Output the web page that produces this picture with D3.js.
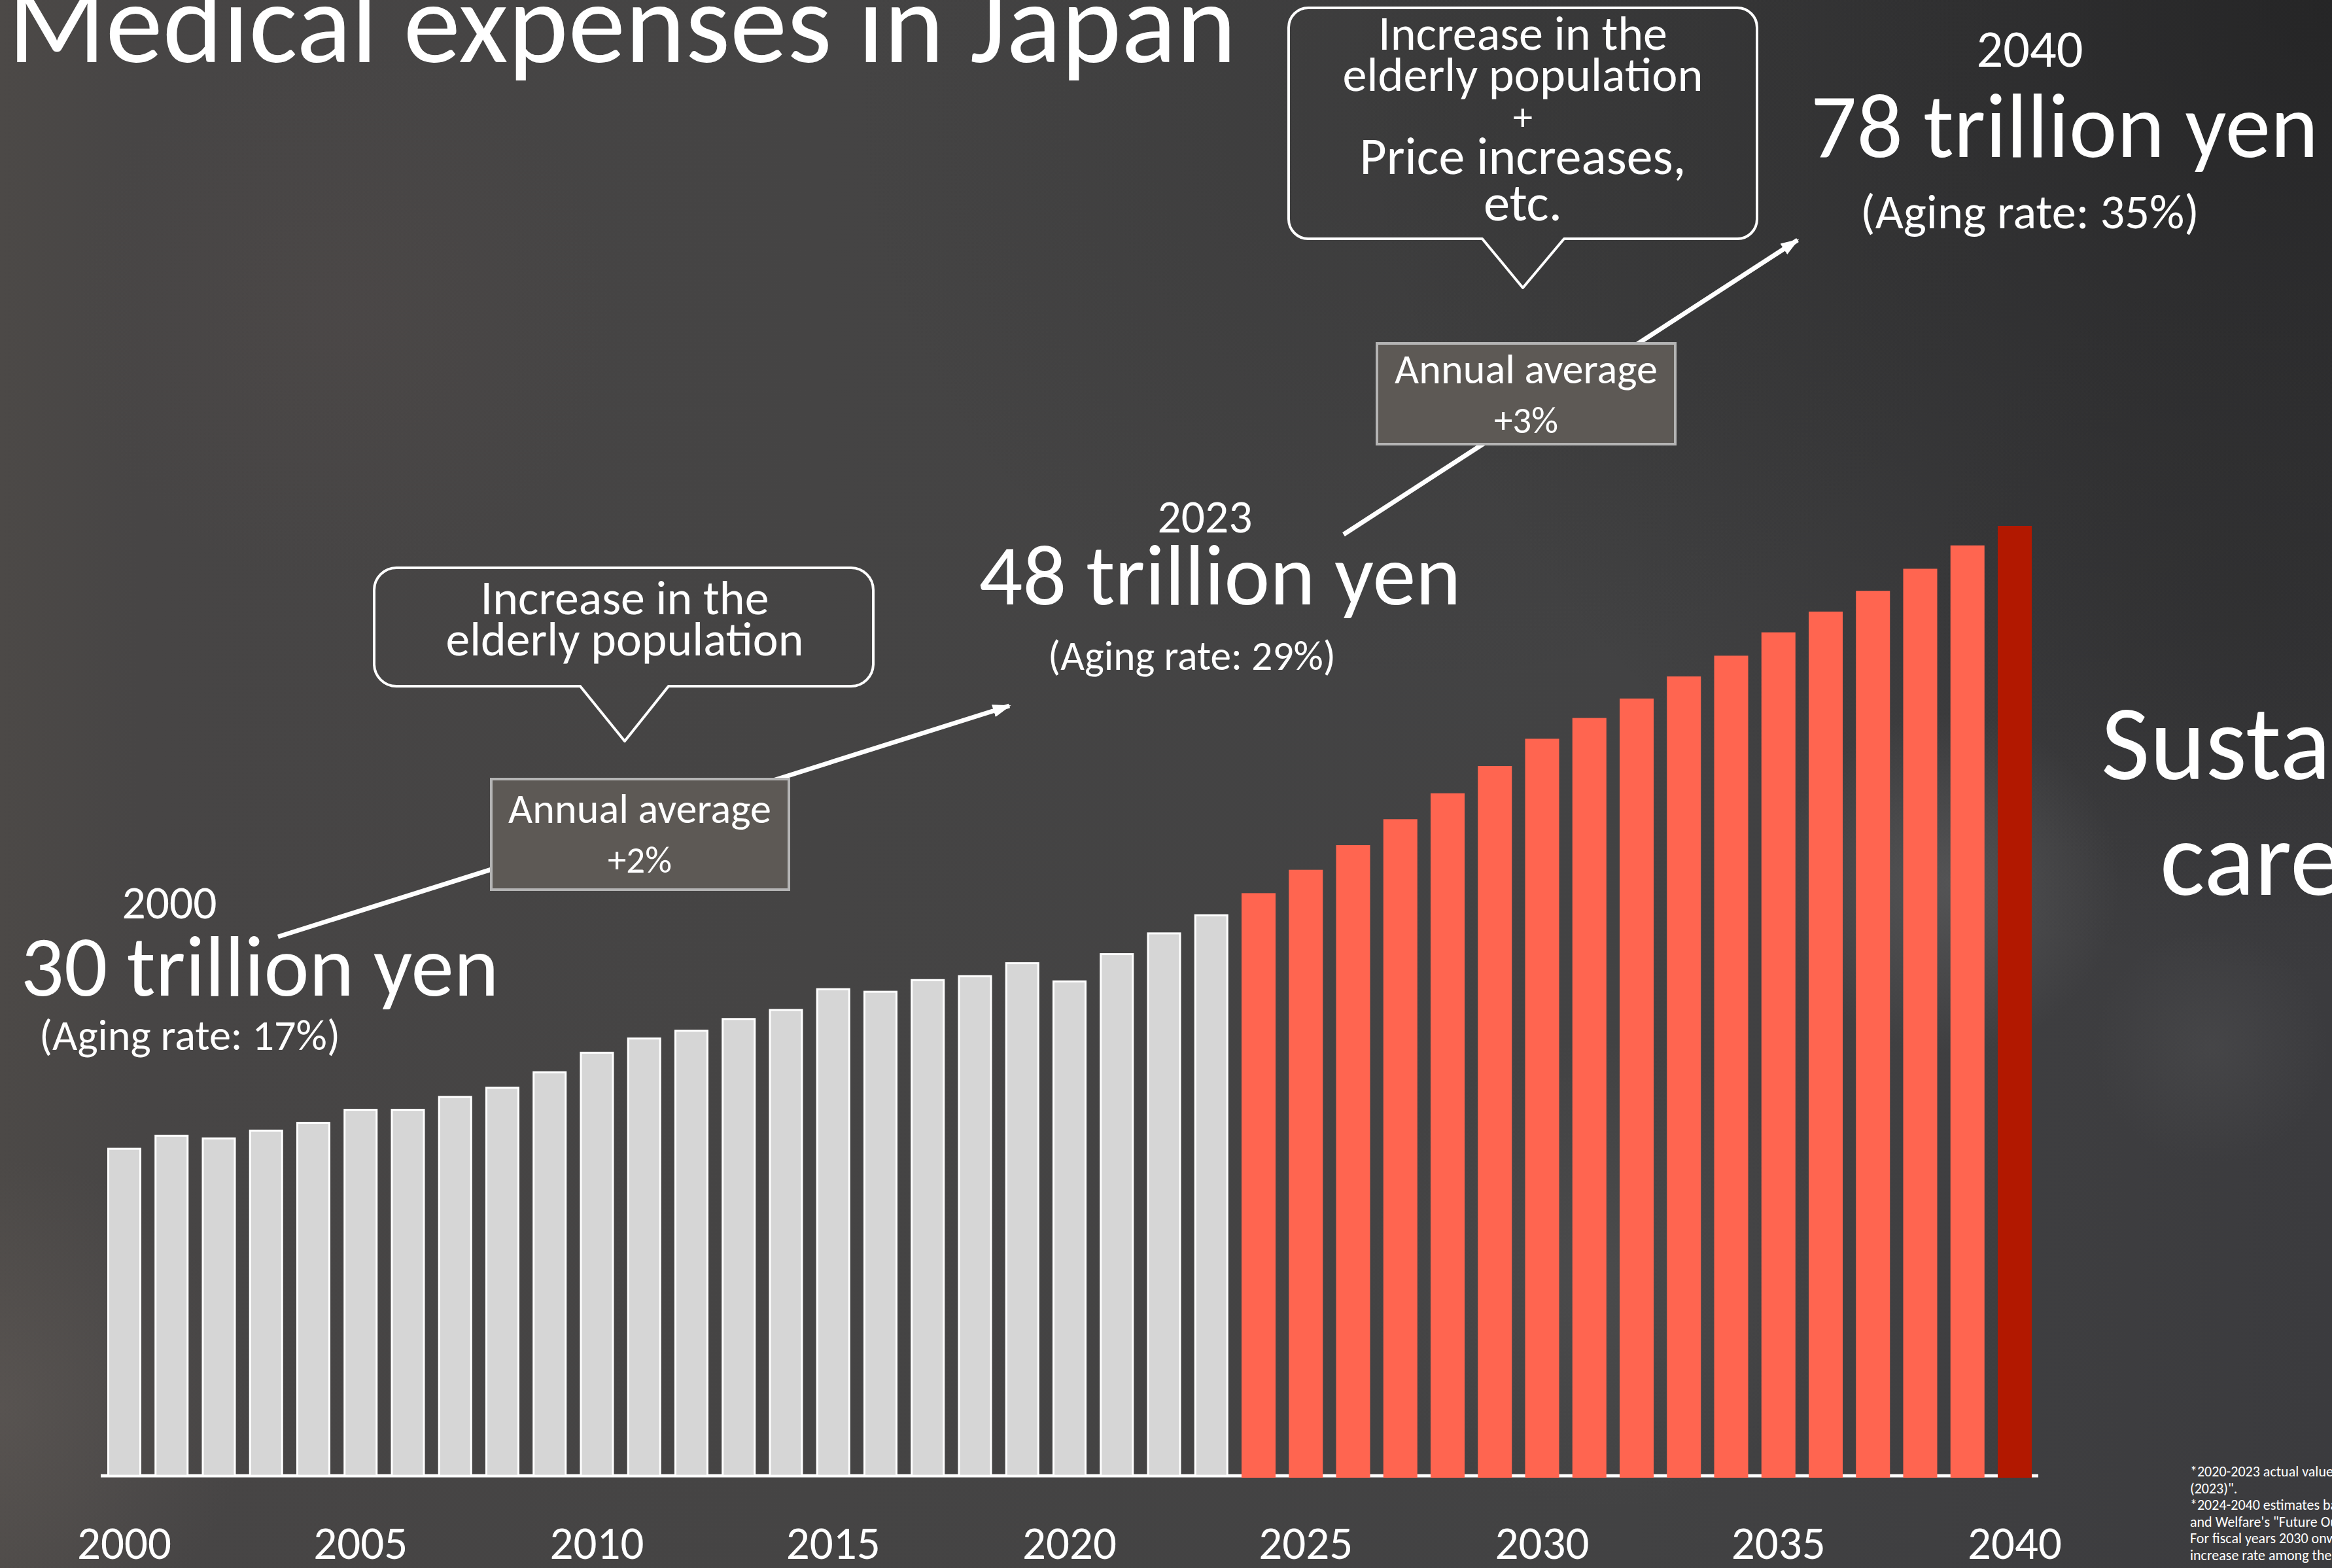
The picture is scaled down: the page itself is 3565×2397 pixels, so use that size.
<!DOCTYPE html>
<html>
<head>
<meta charset="utf-8">
<script src="https://cdn.jsdelivr.net/npm/d3@7"></script>
<style>
  html, body { margin: 0; padding: 0; background: #404040; overflow: hidden; }
  svg { display: block; }
  text { font-family: Carlito, Calibri, Lato, sans-serif; fill: #fff; }
</style>
</head>
<body>
<svg id="chart" width="3565" height="2397"></svg>
<script>
// ---- data (trillion yen, fiscal year) ----
const years = [2000, 2001, 2002, 2003, 2004, 2005, 2006, 2007, 2008, 2009,
  2010, 2011, 2012, 2013, 2014, 2015, 2016, 2017, 2018, 2019,
  2020, 2021, 2022, 2023, 2024, 2025, 2026, 2027, 2028, 2029,
  2030, 2031, 2032, 2033, 2034, 2035, 2036, 2037, 2038, 2039, 2040];
const actualValues = [30.0, 31.0, 30.8, 31.4, 32.0, 33.0, 33.0, 34.0, 34.7, 35.9,
  37.4, 38.5, 39.1, 40.0, 40.7, 42.3, 42.1, 43.0, 43.3, 44.3,
  42.9, 45.0, 46.6, 48.0];
const projectedValues = [49.7, 51.5, 53.4, 55.4, 57.4, 59.5, 61.6, 63.2, 64.7, 66.4,
  68.0, 69.8, 71.4, 73.0, 74.7, 76.5, 78.0];
const tickYears = [2000, 2005, 2010, 2015, 2020, 2025, 2030, 2035, 2040];

const highlightYears = ['2000', '2023', '2040'];
const highlightAmounts = ['30 trillion yen', '48 trillion yen', '78 trillion yen'];
const highlightAging = ['(Aging rate: 17%)', '(Aging rate: 29%)', '(Aging rate: 35%)'];
const growthRates = ['+2%', '+3%'];
const calloutLow = ['Increase in the', 'elderly population'];
const calloutHigh = ['Increase in the', 'elderly population', '+', 'Price increases,', 'etc.'];
const footnotes = [
  '*2020-2023 actual values from MHLW "Trends in Medical Expenses',
  '(2023)".',
  '*2024-2040 estimates based on the Ministry of Health, Labour',
  'and Welfare\'s "Future Outlook of Social Security Benefits".',
  'For fiscal years 2030 onward, calculated using the average',
  'increase rate among the preceding years.'
];

const W = 3565, H = 2397;
const svg = d3.select('#chart');
const defs = svg.append('defs');

// ---- background ----
const base = defs.append('linearGradient').attr('id', 'bgBase')
  .attr('x1', 0).attr('x2', 1).attr('y1', 0).attr('y2', 0);
[[0, '#4c4947'], [0.06, '#474545'], [0.35, '#454444'], [0.7, '#424243'], [1, '#3b3b3e']]
  .forEach(s => base.append('stop').attr('offset', s[0]).attr('stop-color', s[1]));
svg.append('rect').attr('width', W).attr('height', H).attr('fill', 'url(#bgBase)');

function blob(id, cx, cy, r, color, op) {
  const g = defs.append('radialGradient').attr('id', id)
    .attr('gradientUnits', 'userSpaceOnUse')
    .attr('cx', cx).attr('cy', cy).attr('r', r);
  g.append('stop').attr('offset', 0).attr('stop-color', color).attr('stop-opacity', op);
  g.append('stop').attr('offset', 1).attr('stop-color', color).attr('stop-opacity', 0);
  svg.append('rect').attr('width', W).attr('height', H).attr('fill', `url(#${id})`);
}
blob('dkTR', 3565, 0, 1500, '#1c1c1c', 0.7);
blob('dkTop', 2200, 150, 900, '#2a2a2a', 0.3);
blob('dkR', 3450, 900, 500, '#2a2a2a', 0.35);
blob('ltBL', 0, 2150, 380, '#746c68', 0.3);
blob('ltTL', 520, 480, 420, '#5a504e', 0.22);
blob('smoke1', 2980, 1350, 260, '#8a8a8a', 0.28);
blob('smoke2', 2450, 1950, 360, '#7a7a7a', 0.15);
blob('smoke3', 3380, 1600, 180, '#7a7a7a', 0.15);

// ---- helpers ----
function fitText(sel, targetWidth) {
  sel.each(function () {
    const w = this.getComputedTextLength();
    const fs = parseFloat(d3.select(this).attr('font-size'));
    if (w > 0) d3.select(this).attr('font-size', fs * targetWidth / w);
  });
  return sel;
}
function label(x, y, str, size, width, anchor) {
  const t = svg.append('text')
    .attr('x', x).attr('y', y)
    .attr('text-anchor', anchor || 'middle')
    .attr('font-size', size)
    .text(str);
  if (width) fitText(t, width);
  return t;
}

// ---- title ----
label(12, 95, 'Medical expenses in Japan', 150, 1878, 'start');

// ---- scales ----
const values = actualValues.concat(projectedValues);
const bars = years.map((yr, i) => ({
  year: yr,
  value: values[i],
  kind: i < actualValues.length ? 'actual' : (yr === 2040 ? 'target' : 'projected')
}));

const x = d3.scaleBand().domain(years).range([164, 3106]).paddingInner(0.28).paddingOuter(0);
const y = d3.scaleLinear().domain([4.8, 78]).range([2256, 804]);
const baseY = y(4.8);

// baseline
svg.append('line')
  .attr('x1', x.range()[0] - 10).attr('x2', x.range()[1] + 10)
  .attr('y1', baseY).attr('y2', baseY)
  .attr('stroke', '#fff').attr('stroke-width', 5);

const colors = { actual: '#d6d6d6', projected: '#ff6550', target: '#b21800' };

svg.append('g').selectAll('rect')
  .data(bars)
  .join('rect')
  .attr('x', d => d.kind === 'actual' ? x(d.year) + 1.5 : x(d.year))
  .attr('width', d => d.kind === 'actual' ? x.bandwidth() - 3 : x.bandwidth())
  .attr('y', d => y(d.value))
  .attr('height', d => baseY - y(d.value) + (d.kind === 'actual' ? 0 : 3))
  .attr('fill', d => colors[d.kind])
  .attr('stroke', d => d.kind === 'actual' ? '#ffffff' : 'none')
  .attr('stroke-width', 3);

// x axis labels
const axisG = svg.append('g')
  .attr('transform', `translate(0,${baseY})`)
  .call(d3.axisBottom(x).tickValues(tickYears).tickSize(0).tickPadding(77));
axisG.select('.domain').remove();
axisG.attr('font-size', 71).attr('font-family', null);

// ---- arrows ----
defs.append('marker').attr('id', 'arrow')
  .attr('viewBox', '0 0 10 10').attr('refX', 9).attr('refY', 5)
  .attr('markerWidth', 4).attr('markerHeight', 4)
  .attr('orient', 'auto').attr('markerUnits', 'strokeWidth')
  .append('path').attr('d', 'M0,1.5L10,5L0,8.5z').attr('fill', '#fff');

[[425, 1432, 1543, 1079], [2054, 817, 2748, 367]].forEach(a => {
  svg.append('line')
    .attr('x1', a[0]).attr('y1', a[1]).attr('x2', a[2]).attr('y2', a[3])
    .attr('stroke', '#fff').attr('stroke-width', 7)
    .attr('marker-end', 'url(#arrow)');
});

// ---- growth boxes ----
[[751, 1191, 455, 169, 978, 1258, 1334], [2105, 525, 456, 154, 2333, 586, 662]].forEach((b, i) => {
  svg.append('rect')
    .attr('x', b[0]).attr('y', b[1]).attr('width', b[2]).attr('height', b[3])
    .attr('fill', '#5d5955').attr('stroke', '#b4b4b4').attr('stroke-width', 4);
  label(b[4], b[5], 'Annual average', 57, 402);
  label(b[4], b[6], growthRates[i], 57, null);
});

// ---- speech callouts ----
function bubble(x0, y0, x1, y1, r, pl, pr, tx, ty) {
  const p = d3.path();
  p.moveTo(x0 + r, y0);
  p.lineTo(x1 - r, y0);
  p.arcTo(x1, y0, x1, y0 + r, r);
  p.lineTo(x1, y1 - r);
  p.arcTo(x1, y1, x1 - r, y1, r);
  p.lineTo(pr, y1);
  p.lineTo(tx, ty);
  p.lineTo(pl, y1);
  p.lineTo(x0 + r, y1);
  p.arcTo(x0, y1, x0, y1 - r, r);
  p.lineTo(x0, y0 + r);
  p.arcTo(x0, y0, x0 + r, y0, r);
  p.closePath();
  svg.append('path').attr('d', p.toString())
    .attr('fill', 'none').attr('stroke', '#fff').attr('stroke-width', 4)
    .attr('stroke-linejoin', 'round');
}
bubble(572, 868, 1335, 1049, 34, 887, 1022, 955, 1133);
bubble(1970, 12, 2686, 365, 30, 2266, 2391, 2328, 440);

const lowBase = [939, 1002], lowWidth = [441, 547];
calloutLow.forEach((s, i) => label(955, lowBase[i], s, 62, lowWidth[i]));

const highBase = [76, 139, 199, 266, 337], highWidth = [442, 551, null, 499, 120];
calloutHigh.forEach((s, i) => label(2328, highBase[i], s, i === 2 ? 60 : 64, highWidth[i]));

// ---- highlight labels ----
const hl = [
  { yr: [259, 1404, 145], amt: [397, 1522, 731], age: [290, 1605, 460] },
  { yr: [1842, 814, 145], amt: [1865, 924, 737], age: [1822, 1024, 440] },
  { yr: [3103, 102, 163], amt: [3156, 240, 776], age: [3103, 349, 518] }
];
hl.forEach((h, i) => {
  label(h.yr[0], h.yr[1], highlightYears[i], 64, h.yr[2]);
  label(h.amt[0], h.amt[1], highlightAmounts[i], 110, h.amt[2]);
  label(h.age[0], h.age[1], highlightAging[i], 60, h.age[2]);
});

// ---- right side message (cut by the slide edge) ----
label(3212, 1191, 'Sustainable', 162, null, 'start');
label(3302, 1368, 'care', 162, null, 'start');

// ---- footnotes ----
footnotes.forEach((s, i) => label(3348, 2257 + i * 25.6, s, 22, null, 'start'));
</script>
</body>
</html>
